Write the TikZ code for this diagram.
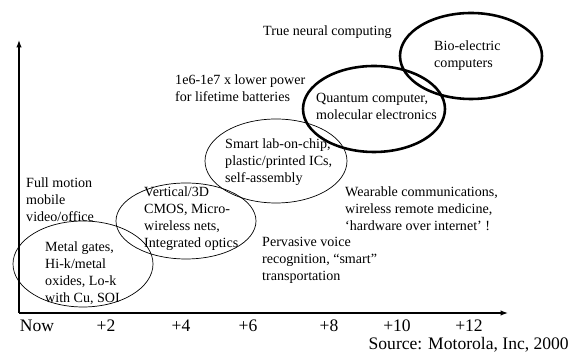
\documentclass[tikz,border=0pt]{standalone}
\usepackage{fontspec}
\setmainfont{Liberation Serif}
\usepackage{tikz}
\usetikzlibrary{positioning, arrows.meta}

\begin{document}
\begin{tikzpicture}[
        txt/.style={anchor=west, align=left, inner sep=0pt,
            font=\fontsize{12}{14.5}\selectfont},
        tick/.style={inner sep=0pt, font=\fontsize{15}{17}\selectfont},
        thinring/.style={draw=black, line width=0.6pt},
        thickring/.style={draw=black, line width=2.2pt}
    ]
            \useasboundingbox (-0.57, -1.44) rectangle (16.62, 9.39);

            % axes
            \coordinate (origin) at (0, 0);
            \coordinate (ytop) at (0, 8.19);
            \coordinate (xend) at (14.67, 0);
            \draw [line width=1.1pt, -{Latex[length=2.2mm, width=1.6mm]}] (origin) -- (ytop);
            \draw [line width=1.1pt, -{Latex[length=2.2mm, width=1.6mm]}] (origin) -- (xend);

            \node[tick] (now) at (0.54, -0.39) {Now};
            \node[tick] (plus2) at (2.61, -0.39) {+2};
            \node[tick] (plus4) at (4.86, -0.39) {+4};
            \node[tick] (plus6) at (6.87, -0.39) {+6};
            \node[tick] (plus8) at (9.30, -0.39) {+8};
            \node[tick] (plus10) at (11.34, -0.39) {+10};
            \node[tick] (plus12) at (13.50, -0.39) {+12};
            \node[tick, anchor=east] (source) at (16.5, -0.96) {Source: Motorola, Inc, 2000};

            % rings
            \draw[thinring] (1.92, 1.47) ellipse (2.1 and 1.29);
            \draw[thinring] (5.01, 2.76) ellipse (2.1 and 1.14);
            \draw[thinring] (7.71, 4.56) ellipse (2.13 and 1.26);
            \draw[thickring] (10.65, 6.12) ellipse (2.13 and 1.29);
            \draw[thickring] (13.56, 7.71) ellipse (2.13 and 1.29);

            % texts
            \node[txt] (neural) at (7.32, 8.43) {True neural computing};
            \node[txt] (power) at (4.68, 6.74) {1e6-1e7 x lower power\\for lifetime batteries};
            \node[txt] (labchip) at (6.18, 4.53) {Smart lab-on-chip,\\plastic/printed ICs,\\self-assembly};
            \node[txt] (quantum) at (8.91, 6.20) {Quantum computer,\\molecular electronics};
            \node[txt] (bio) at (12.45, 7.71) {Bio-electric\\computers};
            \node[txt] (motion) at (0.21, 3.39) {Full motion\\mobile\\video/office};
            \node[txt] (metal) at (0.78, 1.20) {Metal gates,\\Hi-k/metal\\oxides, Lo-k\\with Cu, SOI};
            \node[txt] (vertical) at (3.75, 2.82) {Vertical/3D\\CMOS, Micro-\\wireless nets,\\Integrated optics};
            \node[txt] (voice) at (7.29, 1.59) {Pervasive voice\\recognition, ``smart''\\transportation};
            \node[txt] (wearable) at (9.78, 3.12) {Wearable communications,\\wireless remote medicine,\\`hardware over internet' !};
        \end{tikzpicture}
\end{document}
